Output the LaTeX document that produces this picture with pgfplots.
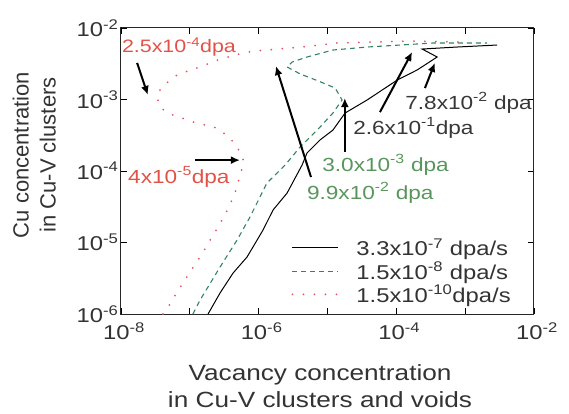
\documentclass[border=0pt]{standalone}
\usepackage{fontspec}
\setmainfont{Liberation Sans}[FakeStretch=1.19]
\newfontfamily\ylfont{Liberation Sans}
\usepackage{pgfplots}
\pgfplotsset{compat=1.18}
\usetikzlibrary{arrows.meta}
\newcommand\fs[2]{\fontsize{#1bp}{#2bp}\selectfont}
\definecolor{cred}{RGB}{232,80,100}
\definecolor{tred}{RGB}{226,82,72}
\definecolor{cgreen}{RGB}{50,132,95}
\definecolor{tgreen}{RGB}{88,150,92}
\definecolor{tdark}{RGB}{55,55,55}
\begin{document}
\begin{tikzpicture}
\useasboundingbox (-121bp,-100bp) rectangle (448bp,314bp);
\begin{axis}[
  scale only axis, width=413bp, height=286bp,
  xmode=log, ymode=log,
  xmin=1e-8, xmax=1e-2, ymin=1e-6, ymax=1e-2,
  xminorticks=false, yminorticks=false,
  xtick={1e-8,1e-7,1e-6,1e-5,1e-4,1e-3,1e-2},
  xticklabels={10\textsuperscript{-8},,10\textsuperscript{-6},,10\textsuperscript{-4},,10\textsuperscript{-2}},
  ytick={1e-6,1e-5,1e-4,1e-3,1e-2},
  yticklabels={10\textsuperscript{-6},10\textsuperscript{-5},10\textsuperscript{-4},10\textsuperscript{-3},10\textsuperscript{-2}},
  tick align=inside, major tick length=6bp,
  tick style={line width=0.9bp, black},
  axis line style={line width=1bp, black!85},
  tick label style={font=\fs{20}{24}, text=black!80},
  xticklabel style={yshift=-5bp, xshift=3bp},
  yticklabel style={xshift=1bp},
  xlabel={Vacancy concentration\\in Cu-V clusters and voids},
  ylabel={Cu concentration\\in Cu-V clusters},
  xlabel style={at={(axis description cs:0.482,-0.252)}, anchor=center, align=center, font=\fs{22}{27}, text=black!80},
  ylabel style={at={(axis description cs:-0.210,0.556)}, anchor=center, align=center, font=\ylfont\fs{22}{27}, text=black!80},
  legend style={at={(rel axis cs:0.405,0.278)}, anchor=north west, draw=none, fill=none, font=\fs{20}{22}, text=black!80, row sep=0.5bp},
  legend cell align=left,
  legend image code/.code={\draw[#1] (0bp,0bp) -- (46bp,0bp); \path[draw=none, fill=none] (0bp,0bp) -- (62bp,0bp);},
]
\addplot[black, line width=1bp] coordinates {
(1.84e-7,1.0e-6) (2.75e-7,1.97e-6) (4.25e-7,3.74e-6) (6.78e-7,6.27e-6)
(9.48e-7,1.08e-5) (1.16e-6,1.50e-5) (1.62e-6,2.85e-5) (2.59e-6,4.92e-5)
(4.27e-6,1.21e-4) (5.05e-6,1.79e-4) (7.80e-6,2.72e-4) (1.20e-5,3.74e-4)
(1.80e-5,6.47e-4) (3.77e-5,9.85e-4) (1.03e-4,1.87e-3) (2.01e-4,2.59e-3)
(3.92e-4,3.93e-3) (2.37e-4,5.08e-3) (7.66e-4,5.42e-3) (2.92e-3,5.78e-3)
};
\addlegendentry{3.3x10\textsuperscript{-7} dpa/s}
\addplot[cgreen, line width=1.1bp, dash pattern=on 5bp off 4bp] coordinates {
(1.11e-7,1.0e-6) (1.41e-7,1.57e-6) (2.75e-7,4.54e-6) (4.85e-7,1.08e-5)
(7.50e-7,2.28e-5) (1.32e-6,6.79e-5) (2.42e-6,1.21e-4) (4.00e-6,2.17e-4)
(7.80e-6,4.12e-4) (1.20e-5,6.47e-4) (1.63e-5,9.85e-4) (1.29e-5,1.45e-3)
(7.30e-6,1.82e-3) (4.00e-6,2.28e-3) (2.59e-6,2.85e-3) (3.06e-6,3.34e-3)
(5.05e-6,3.93e-3) (1.20e-5,4.92e-3) (3.77e-5,5.42e-3) (1.14e-4,5.78e-3)
(3.43e-4,6.17e-3) (2.09e-3,6.17e-3)
};
\addlegendentry{1.5x10\textsuperscript{-8} dpa/s}
\addplot[cred, line width=2bp, line cap=round, dash pattern=on 0bp off 11bp] coordinates {
(4.07e-8,1.0e-6) (5.15e-8,1.38e-6) (6.52e-8,2.03e-6) (9.42e-8,3.51e-6)
(1.41e-7,6.27e-6) (2.10e-7,1.19e-5) (3.25e-7,2.43e-5) (4.54e-7,4.92e-5)
(5.37e-7,8.79e-5) (6.14e-7,1.34e-4) (5.37e-7,1.85e-4) (3.84e-7,2.90e-4)
(2.48e-7,3.99e-4) (1.66e-7,4.40e-4) (1.11e-7,4.84e-4) (7.71e-8,5.51e-4)
(5.15e-8,6.26e-4) (3.81e-8,7.60e-4) (3.33e-8,1.05e-3) (3.69e-8,1.36e-3)
(4.82e-8,1.76e-3) (6.52e-8,2.20e-3) (9.42e-8,2.51e-3) (1.41e-7,2.85e-3)
(1.97e-7,3.24e-3) (2.75e-7,3.68e-3) (4.10e-7,4.06e-3) (5.93e-7,4.47e-3)
(8.87e-7,4.77e-3) (1.91e-6,5.08e-3) (4.27e-6,5.42e-3) (1.38e-5,6.17e-3)
(5.26e-5,6.37e-3) (1.59e-4,6.58e-3) (8.45e-4,6.37e-3)
};
\addlegendentry{1.5x10\textsuperscript{-10}dpa/s}
% annotations
\tikzset{ann/.style={-{Latex[length=9bp,width=8bp]}, line width=2bp, black}}
\node[anchor=west, inner sep=0pt, text=tred, font=\fs{18}{22}] at (rel axis cs:0.002,0.934) {2.5x10\textsuperscript{-4}dpa};
\draw[ann] (rel axis cs:0.039,0.878) -- (rel axis cs:0.065,0.766);
\node[anchor=west, inner sep=0pt, text=tred, font=\fs{19}{22}] at (rel axis cs:0.017,0.479) {4x10\textsuperscript{-5}dpa};
\draw[ann] (rel axis cs:0.179,0.538) -- (rel axis cs:0.288,0.538);
\node[anchor=west, inner sep=0pt, text=tgreen, font=\fs{19}{22}] at (rel axis cs:0.487,0.521) {3.0x10\textsuperscript{-3} dpa};
\draw[ann] (rel axis cs:0.542,0.566) -- (rel axis cs:0.542,0.755);
\node[anchor=west, inner sep=0pt, text=tgreen, font=\fs{19}{22}] at (rel axis cs:0.450,0.423) {9.9x10\textsuperscript{-2} dpa};
\draw[ann] (rel axis cs:0.460,0.479) -- (rel axis cs:0.375,0.867);
\node[anchor=west, inner sep=0pt, text=tdark, font=\fs{19}{22}] at (rel axis cs:0.688,0.738) {7.8x10\textsuperscript{-2} dpa};
\draw[ann] (rel axis cs:0.736,0.790) -- (rel axis cs:0.760,0.878);
\node[anchor=west, inner sep=0pt, text=tdark, font=\fs{19}{22}] at (rel axis cs:0.562,0.650) {2.6x10\textsuperscript{-1}dpa};
\draw[ann] (rel axis cs:0.627,0.706) -- (rel axis cs:0.705,0.916);
\end{axis}
\end{tikzpicture}
\end{document}
